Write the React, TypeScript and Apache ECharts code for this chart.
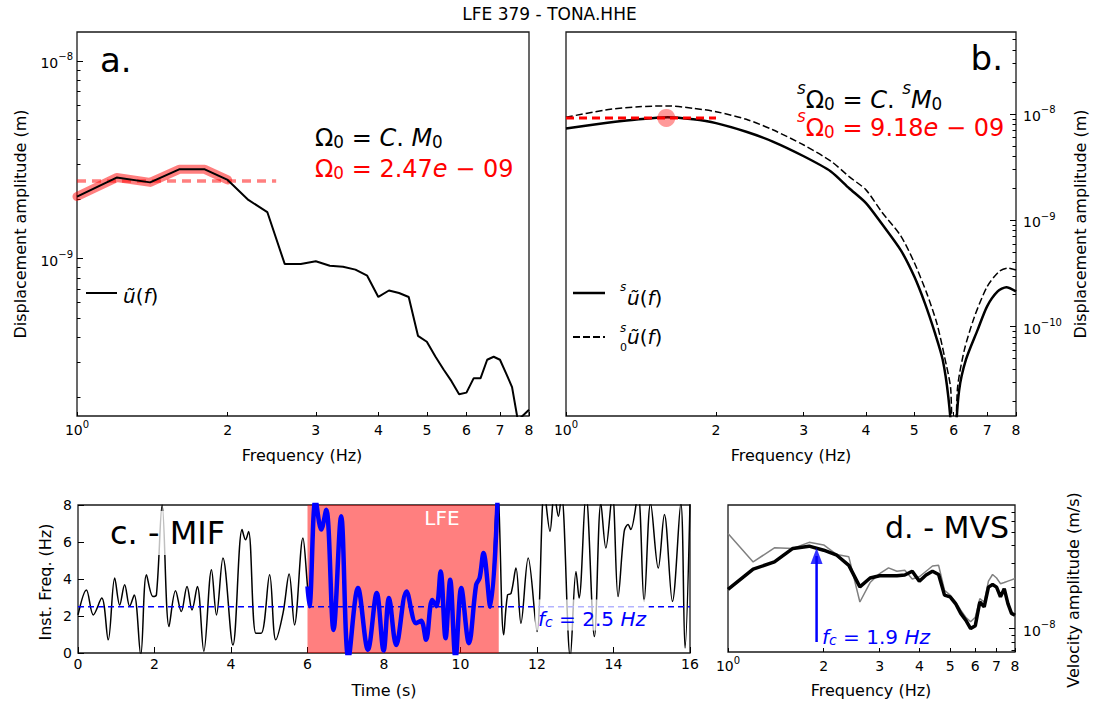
import React, { useEffect, useRef } from 'react';
import * as echarts from 'echarts';

const F = 'DejaVu Sans';
const TITLE = 'LFE 379 - TONA.HHE';

// ---------- panel a : observed displacement spectrum ----------
const freqA = [1.0, 1.2, 1.4, 1.6, 1.8, 2.0, 2.2, 2.4, 2.6, 2.8, 3.0, 3.2, 3.4, 3.6, 3.8, 4.0, 4.2, 4.4, 4.6, 4.8, 5.0, 5.2, 5.4, 5.6, 5.8, 6.0, 6.2, 6.4, 6.6, 6.8, 7.0, 7.2, 7.4, 7.6, 7.8, 8.0];
const ampA = [2.06e-9, 2.57e-9, 2.43e-9, 2.83e-9, 2.83e-9, 2.5e-9, 1.98e-9, 1.72e-9, 9.4e-10, 9.4e-10, 9.7e-10, 9.2e-10, 9.1e-10, 8.8e-10, 8.2e-10, 6.4e-10, 6.9e-10, 6.7e-10, 6.4e-10, 4.07e-10, 3.8e-10, 3.2e-10, 2.75e-10, 2.4e-10, 2.06e-10, 2.1e-10, 2.48e-10, 2.48e-10, 3.08e-10, 3.19e-10, 3.08e-10, 2.63e-10, 2.24e-10, 1.52e-10, 1.62e-10, 1.72e-10];
const plateauFreqA = [1.0, 1.2, 1.4, 1.6, 1.8, 2.0];
const plateauAmpA = [2.06e-9, 2.57e-9, 2.43e-9, 2.83e-9, 2.83e-9, 2.5e-9];
const omegaA = 2.47e-9;
const omegaFreqA = [1, 2.5];
const yRangeA = [1.6e-10, 1.4e-8];
const majorA = [1e-9, 1e-8];
const minorA = [2e-10, 3e-10, 4e-10, 5e-10, 6e-10, 7e-10, 8e-10, 9e-10, 2e-9, 3e-9, 4e-9, 5e-9, 6e-9, 7e-9, 8e-9, 9e-9];

// ---------- panel b : source spectra ----------
const freqB = [1.0, 1.2, 1.4, 1.6, 1.8, 2.0, 2.3, 2.6, 3.0, 3.4, 3.7, 4.0, 4.3, 4.7, 5.0, 5.25, 5.5, 5.7, 5.85, 5.95, 6.0, 6.05, 6.15, 6.35, 6.7, 7.0, 7.35, 7.65, 8.0];
const solidB = [7.3e-9, 8.2e-9, 8.9e-9, 9.3e-9, 8.9e-9, 8.2e-9, 6.8e-9, 5.5e-9, 4.0e-9, 2.88e-9, 2.0e-9, 1.45e-9, 9.3e-10, 5.2e-10, 2.95e-10, 1.66e-10, 8.7e-11, 4.9e-11, 2.2e-11, 8e-12, 1e-12, 8e-12, 2.5e-11, 4.9e-11, 9.3e-11, 1.55e-10, 2.14e-10, 2.34e-10, 2.14e-10];
const freqB0 = [1.0, 1.2, 1.4, 1.6, 1.8, 2.0, 2.3, 2.6, 3.0, 3.4, 3.7, 4.0, 4.3, 4.7, 5.0, 5.3, 5.55, 5.75, 5.92, 6.0, 6.1, 6.3, 6.6, 7.0, 7.4, 7.7, 8.0];
const dashedB = [9.3e-9, 1.09e-8, 1.17e-8, 1.19e-8, 1.13e-8, 1.05e-8, 8.9e-9, 7.1e-9, 5.1e-9, 3.6e-9, 2.57e-9, 1.93e-9, 1.2e-9, 7.1e-10, 4.0e-10, 2.04e-10, 1.07e-10, 5.2e-11, 2.5e-11, 1e-12, 2.5e-11, 6e-11, 1.23e-10, 2.37e-10, 3.3e-10, 3.55e-10, 3.4e-10];
const omegaB = 9.18e-9;
const omegaFreqB = [1, 2];
const peakFreqB = 1.59;
const yRangeB = [1.44e-11, 5.9e-8];
const majorB = [1e-10, 1e-9, 1e-8];
const minorB = [2e-11, 3e-11, 4e-11, 5e-11, 6e-11, 7e-11, 8e-11, 9e-11, 2e-10, 3e-10, 4e-10, 5e-10, 6e-10, 7e-10, 8e-10, 9e-10, 2e-9, 3e-9, 4e-9, 5e-9, 6e-9, 7e-9, 8e-9, 9e-9, 2e-8, 3e-8, 4e-8, 5e-8];

// ---------- panel c : mean instantaneous frequency ----------
const timeBefore = [0, 0.22, 0.40, 0.62, 0.79, 0.96, 1.09, 1.22, 1.35, 1.47, 1.64, 1.79, 1.96, 2.05, 2.20, 2.38, 2.55, 2.70, 2.85, 2.98, 3.12, 3.29, 3.49, 3.62, 3.79, 4.05, 4.29, 4.38, 4.46, 4.65, 4.79, 5.01, 5.17, 5.36, 5.52, 5.66, 5.88];
const mifBefore = [2.06, 3.41, 2.06, 2.97, 0.71, 4.05, 2.6, 3.69, 2.53, 3.14, -0.1, 4.23, 3.05, 3.14, 8.0, 1.43, 3.36, 2.24, 3.6, 2.33, 3.6, 0.09, 4.5, 2.06, 5.13, 0.43, 6.67, 6.12, 6.57, 1.07, 1.07, 4.23, 0.71, 2.15, 4.27, 1.52, 6.22];
const timeLfe = [6.0, 6.05, 6.21, 6.36, 6.49, 6.68, 6.88, 7.07, 7.32, 7.58, 7.81, 7.99, 8.13, 8.32, 8.59, 8.84, 8.97, 9.10, 9.26, 9.37, 9.48, 9.61, 9.73, 9.87, 10.02, 10.22, 10.41, 10.50, 10.60, 10.78, 10.97];
const mifLfe = [3.6, 2.53, 8.3, 6.67, 7.75, 1.25, 7.39, -0.3, 3.51, 0.18, 3.24, 0.13, 2.97, 0.43, 3.33, 1.61, 1.74, 0.71, 2.87, 2.53, 4.41, 0.8, 3.96, -0.3, 3.51, 0.53, 3.69, 4.05, 5.4, 2.5, 8.4];
const timeAfter = [11.0, 11.13, 11.23, 11.32, 11.45, 11.58, 11.77, 12.00, 12.19, 12.34, 12.45, 12.56, 12.64, 12.87, 13.02, 13.10, 13.28, 13.50, 13.67, 13.80, 13.97, 14.12, 14.28, 14.38, 14.45, 14.64, 14.80, 14.97, 15.17, 15.33, 15.54, 15.76, 15.87, 16.0];
const mifAfter = [8.2, 0.98, 3.14, 3.22, 4.59, 1.61, 5.13, 1.16, 8.8, 6.58, 8.6, 7.39, 8.6, -0.2, 4.41, 2.97, 8.6, 0.89, 8.1, 5.67, 8.6, 3.05, 6.58, 6.94, 6.67, 8.6, 2.79, 8.1, 4.59, 7.48, 2.79, 8.1, 0.27, 8.1];
const lfeWindow = [6, 11];
const fcMif = 2.5;
const timeSpanC = [0, 16];

// ---------- panel d : mean velocity spectrum ----------
const freqD = [1.0, 1.2, 1.4, 1.6, 1.8, 2.0, 2.2, 2.4, 2.6, 2.8, 3.0, 3.2, 3.4, 3.6, 3.8, 4.0, 4.2, 4.4, 4.6, 4.8, 5.0, 5.2, 5.4, 5.6, 5.8, 6.0, 6.2, 6.4, 6.6, 6.8, 7.0, 7.2, 7.4, 7.6, 7.8, 8.0];
const mvsD = [1.93e-8, 2.70e-8, 3.05e-8, 3.82e-8, 3.97e-8, 3.71e-8, 3.41e-8, 2.88e-8, 2.01e-8, 2.33e-8, 2.42e-8, 2.42e-8, 2.42e-8, 2.45e-8, 2.61e-8, 2.21e-8, 2.45e-8, 2.61e-8, 2.47e-8, 1.75e-8, 1.70e-8, 1.52e-8, 1.29e-8, 1.15e-8, 1.0e-8, 1.05e-8, 1.56e-8, 1.44e-8, 2.0e-8, 2.09e-8, 2.0e-8, 1.7e-8, 1.95e-8, 1.52e-8, 1.29e-8, 1.25e-8];
const rawD = [4.9e-8, 3.05e-8, 3.86e-8, 3.82e-8, 4.23e-8, 4.05e-8, 3.45e-8, 3.32e-8, 1.56e-8, 2.16e-8, 2.51e-8, 2.76e-8, 2.61e-8, 2.65e-8, 2.29e-8, 2.38e-8, 2.61e-8, 2.85e-8, 2.88e-8, 1.9e-8, 1.75e-8, 1.56e-8, 1.36e-8, 1.21e-8, 1.12e-8, 1.21e-8, 1.65e-8, 1.56e-8, 2.21e-8, 2.47e-8, 2.33e-8, 2.12e-8, 2.16e-8, 2.21e-8, 2.26e-8, 2.31e-8];
const fcMvs = 1.9;
const arrowD = [8.0e-9, 3.37e-8];
const yRangeD = [6.76e-9, 7.9e-8];
const majorD = [1e-8];
const minorD = [7e-9, 8e-9, 9e-9, 2e-8, 3e-8, 4e-8, 5e-8, 6e-8, 7e-8];

const freqTicks = [1, 2, 3, 4, 5, 6, 7, 8];

const zip = (xs: number[], ys: number[]) => xs.map((x, i) => [x, ys[i]]);

const powFmt = (v: number) => {
  const e = Math.log10(v);
  if (Math.abs(e - Math.round(e)) < 1e-6) {
    const r = Math.round(e);
    return `{b|10}{s|${r < 0 ? '\u2212' : ''}${Math.abs(r)}}`;
  }
  return `{b|${Math.round(v * 100) / 100}}`;
};
const axRich = {
  b: { fontFamily: F, fontSize: 14, lineHeight: 18, verticalAlign: 'bottom', color: '#000' },
  s: { fontFamily: F, fontSize: 10, lineHeight: 10, verticalAlign: 'top', color: '#000' },
};

const logX = (gridIndex: number) => ({
  type: 'log', gridIndex, min: 1, max: 8, logBase: 10,
  axisLine: { show: false }, splitLine: { show: false },
  axisTick: { show: true, inside: true, length: 4, customValues: freqTicks, lineStyle: { color: '#000' } },
  axisLabel: { customValues: freqTicks, formatter: powFmt, rich: axRich, margin: 3 },
});
const logY = (gridIndex: number, range: number[], major: number[], pos: string, margin: number) => ({
  type: 'log', gridIndex, min: range[0], max: range[1], logBase: 10, position: pos,
  axisLine: { show: false }, splitLine: { show: false },
  axisTick: { show: true, inside: true, length: 6, customValues: major, lineStyle: { color: '#000' } },
  axisLabel: { customValues: major, formatter: powFmt, rich: axRich, margin },
});
const logYMinor = (gridIndex: number, range: number[], minor: number[], pos: string) => ({
  type: 'log', gridIndex, min: range[0], max: range[1], logBase: 10, position: pos,
  axisLine: { show: false }, splitLine: { show: false },
  axisTick: { show: true, inside: true, length: 3.5, customValues: minor, lineStyle: { color: '#000' } },
  axisLabel: { show: false },
});

const T = (x: number, y: number, text: string, o: any = {}) => ({
  type: 'text', x, y, z: 100, rotation: o.rot || 0,
  style: {
    text, fontFamily: F, fontSize: o.size || 16, fill: o.color || '#000',
    fontStyle: o.italic ? 'italic' : 'normal',
    align: o.align || 'left', textAlign: o.align || 'left',
    verticalAlign: 'middle', textVerticalAlign: 'middle',
    ...(o.rich ? { rich: o.rich } : {}),
    ...(o.bg ? { backgroundColor: o.bg, padding: o.pad || [3, 4] } : {}),
  },
});
const mathRich = (color: string, size: number) => ({
  n: { fontFamily: F, fontSize: size, lineHeight: size * 1.35, verticalAlign: 'bottom', fill: color },
  i: { fontFamily: F, fontSize: size, lineHeight: size * 1.35, verticalAlign: 'bottom', fill: color, fontStyle: 'italic' },
  sb: { fontFamily: F, fontSize: size * 0.7, lineHeight: size * 0.7, verticalAlign: 'bottom', fill: color },
  sbi: { fontFamily: F, fontSize: size * 0.7, lineHeight: size * 0.7, verticalAlign: 'bottom', fill: color, fontStyle: 'italic' },
  sp: { fontFamily: F, fontSize: size * 0.7, lineHeight: size * 0.7, verticalAlign: 'top', fill: color, fontStyle: 'italic' },
});

const BLUE = '#0000ff';
const PINK = 'rgba(255,0,0,0.5)';

const buildOption = () => {
  const mantA = (omegaA / 1e-9).toFixed(2);
  const mantB = (omegaB / 1e-9).toFixed(2);
  const timeAll = [...timeBefore, ...timeLfe, ...timeAfter];
  const mifAll = [...mifBefore, ...mifLfe, ...mifAfter];
  return {
    animation: false,
    textStyle: { fontFamily: F },
    grid: [
      { left: 77, top: 32, width: 452, height: 384 },
      { left: 566, top: 32, width: 450, height: 384 },
      { left: 78, top: 505, width: 612, height: 148 },
      { left: 728, top: 505, width: 287, height: 147 },
    ].map((g) => ({ ...g, show: true, borderColor: '#1a1a1a', borderWidth: 1.3, backgroundColor: 'transparent', containLabel: false, outerBoundsMode: 'none' })),
    xAxis: [
      logX(0),
      logX(1),
      {
        type: 'value', gridIndex: 2, min: timeSpanC[0], max: timeSpanC[1], interval: 2,
        axisLine: { show: false }, splitLine: { show: false },
        axisTick: { inside: true, length: 6, lineStyle: { color: '#000' } },
        axisLabel: { fontSize: 14, color: '#000', margin: 4 },
      },
      logX(3),
    ],
    yAxis: [
      logY(0, yRangeA, majorA, 'left', 4),
      logYMinor(0, yRangeA, minorA, 'left'),
      logY(1, yRangeB, majorB, 'right', 7),
      logYMinor(1, yRangeB, minorB, 'right'),
      {
        type: 'value', gridIndex: 2, min: 0, max: 8, interval: 2,
        axisLine: { show: false }, splitLine: { show: false },
        axisTick: { inside: true, length: 6, lineStyle: { color: '#000' } },
        axisLabel: { fontSize: 14, color: '#000', margin: 6 },
      },
      logY(3, yRangeD, majorD, 'right', 8),
      logYMinor(3, yRangeD, minorD, 'right'),
    ],
    series: [
      // a
      { type: 'line', xAxisIndex: 0, yAxisIndex: 0, data: zip(plateauFreqA, plateauAmpA), showSymbol: false, silent: true, z: 2, lineStyle: { color: PINK, width: 9, cap: 'round', join: 'round' } },
      { type: 'line', xAxisIndex: 0, yAxisIndex: 0, data: omegaFreqA.map((f) => [f, omegaA]), showSymbol: false, silent: true, z: 3, lineStyle: { color: PINK, width: 3.5, type: [9, 6] } },
      { type: 'line', xAxisIndex: 0, yAxisIndex: 0, data: zip(freqA, ampA), showSymbol: false, silent: true, z: 4, lineStyle: { color: '#000', width: 2 } },
      // b
      { type: 'line', xAxisIndex: 1, yAxisIndex: 2, data: zip(freqB0, dashedB), smooth: 0.25, showSymbol: false, silent: true, z: 2, lineStyle: { color: '#000', width: 1.5, type: [7, 3] } },
      { type: 'line', xAxisIndex: 1, yAxisIndex: 2, data: zip(freqB, solidB), smooth: 0.25, showSymbol: false, silent: true, z: 3, lineStyle: { color: '#000', width: 2.5 } },
      { type: 'line', xAxisIndex: 1, yAxisIndex: 2, data: omegaFreqB.map((f) => [f, omegaB]), showSymbol: false, silent: true, z: 4, lineStyle: { color: '#ff0000', width: 3, type: [8, 5] } },
      { type: 'scatter', xAxisIndex: 1, yAxisIndex: 2, data: [[peakFreqB, omegaB]], symbolSize: 18, silent: true, z: 5, itemStyle: { color: PINK } },
      // c
      {
        type: 'line', xAxisIndex: 2, yAxisIndex: 4, data: [], z: 1, silent: true,
        markArea: { silent: true, itemStyle: { color: PINK }, data: [[{ xAxis: lfeWindow[0] }, { xAxis: lfeWindow[1] }]] },
      },
      { type: 'line', xAxisIndex: 2, yAxisIndex: 4, data: zip(timeAll, mifAll), smooth: 0.35, showSymbol: false, silent: true, z: 2, lineStyle: { color: '#000', width: 1.5 } },
      { type: 'line', xAxisIndex: 2, yAxisIndex: 4, data: timeSpanC.map((t) => [t, fcMif]), showSymbol: false, silent: true, z: 3, lineStyle: { color: BLUE, width: 1.5, type: [6, 4] } },
      { type: 'line', xAxisIndex: 2, yAxisIndex: 4, data: zip(timeLfe, mifLfe), smooth: 0.35, showSymbol: false, silent: true, z: 4, lineStyle: { color: BLUE, width: 4.5 } },
      // d
      { type: 'line', xAxisIndex: 3, yAxisIndex: 5, data: zip(freqD, rawD), showSymbol: false, silent: true, z: 2, lineStyle: { color: '#808080', width: 1.5 } },
      { type: 'line', xAxisIndex: 3, yAxisIndex: 5, data: zip(freqD, mvsD), showSymbol: false, silent: true, z: 3, lineStyle: { color: '#000', width: 3.5 } },
      { type: 'line', xAxisIndex: 3, yAxisIndex: 5, data: arrowD.map((v) => [fcMvs, v]), showSymbol: false, silent: true, z: 4, lineStyle: { color: BLUE, width: 2.5 } },
      { type: 'scatter', xAxisIndex: 3, yAxisIndex: 5, data: [[fcMvs, arrowD[1]]], symbol: 'triangle', symbolSize: [12, 16], silent: true, z: 5, itemStyle: { color: BLUE } },
    ],
    graphic: [
      T(549.5, 14, TITLE, { size: 17, align: 'center' }),
      // a
      T(100, 60, 'a.', { size: 34 }),
      T(315, 134, '{n|Ω}{sb|0}{n| = }{i|C}{n|. }{i|M}{sb|0}', { rich: mathRich('#000', 24) }),
      T(315, 165, `{n|Ω}{sb|0}{n| = ${mantA}}{i|e}{n| \u2212 09}`, { rich: mathRich('#ff0000', 24), color: '#ff0000' }),
      { type: 'line', z: 100, shape: { x1: 86, y1: 293, x2: 117, y2: 293 }, style: { stroke: '#000', lineWidth: 2 } },
      T(123, 292, '{i|ũ}{n|(}{i|f}{n|)}', { rich: mathRich('#000', 20) }),
      T(20, 224, 'Displacement amplitude (m)', { rot: Math.PI / 2, align: 'center' }),
      T(302, 455, 'Frequency (Hz)', { align: 'center' }),
      // b
      T(1003, 58, 'b.', { size: 34, align: 'right' }),
      T(797, 96, '{sp|s}{n|Ω}{sb|0}{n| = }{i|C}{n|. }{sp|s}{i|M}{sb|0}', { rich: mathRich('#000', 24) }),
      T(797, 124, `{sp|s}{n|Ω}{sb|0}{n| = ${mantB}}{i|e}{n| \u2212 09}`, { rich: mathRich('#ff0000', 24), color: '#ff0000' }),
      { type: 'line', z: 100, shape: { x1: 573, y1: 293, x2: 605, y2: 293 }, style: { stroke: '#000', lineWidth: 2.5 } },
      T(620, 287, 's', { size: 12, italic: true }),
      T(627, 294, '{i|ũ}{n|(}{i|f}{n|)}', { rich: mathRich('#000', 20) }),
      { type: 'line', z: 100, shape: { x1: 573, y1: 337, x2: 605, y2: 337 }, style: { stroke: '#000', lineWidth: 2, lineDash: [7, 3] } },
      T(620, 328, 's', { size: 12, italic: true }),
      T(620, 347, '0', { size: 11 }),
      T(627, 333, '{i|ũ}{n|(}{i|f}{n|)}', { rich: mathRich('#000', 20) }),
      T(1080, 224, 'Displacement amplitude (m)', { rot: Math.PI / 2, align: 'center' }),
      T(791, 455, 'Frequency (Hz)', { align: 'center' }),
      // c
      T(106, 533, 'c. - MIF', { size: 32, bg: 'rgba(255,255,255,0.75)', pad: [6, 4] }),
      T(442, 518, 'LFE', { size: 20, color: '#ffffff', align: 'center' }),
      T(535, 615, `{i|f}{sbi|c}{n| = ${fcMif} }{i|Hz}`, { rich: mathRich(BLUE, 20), bg: 'rgba(255,255,255,0.7)', pad: [2, 3] }),
      T(45.5, 582, 'Inst. Freq. (Hz)', { rot: Math.PI / 2, align: 'center' }),
      T(384, 690, 'Time (s)', { align: 'center' }),
      // d
      T(1009, 527, 'd. - MVS', { size: 30, align: 'right' }),
      T(822, 633, `{i|f}{sbi|c}{n| = ${fcMvs} }{i|Hz}`, { rich: mathRich(BLUE, 20) }),
      T(1073, 590, 'Velocity amplitude (m/s)', { rot: Math.PI / 2, align: 'center' }),
      T(871, 690, 'Frequency (Hz)', { align: 'center' }),
    ],
  };
};

export default function App() {
  const ref = useRef<HTMLDivElement>(null);
  useEffect(() => {
    document.body.style.margin = '0';
    const chart = echarts.init(ref.current as HTMLDivElement, null, { renderer: 'svg' });
    chart.setOption(buildOption() as any);
    return () => chart.dispose();
  }, []);
  return <div ref={ref} style={{ width: 1099, height: 707, background: '#fff' }} />;
}
